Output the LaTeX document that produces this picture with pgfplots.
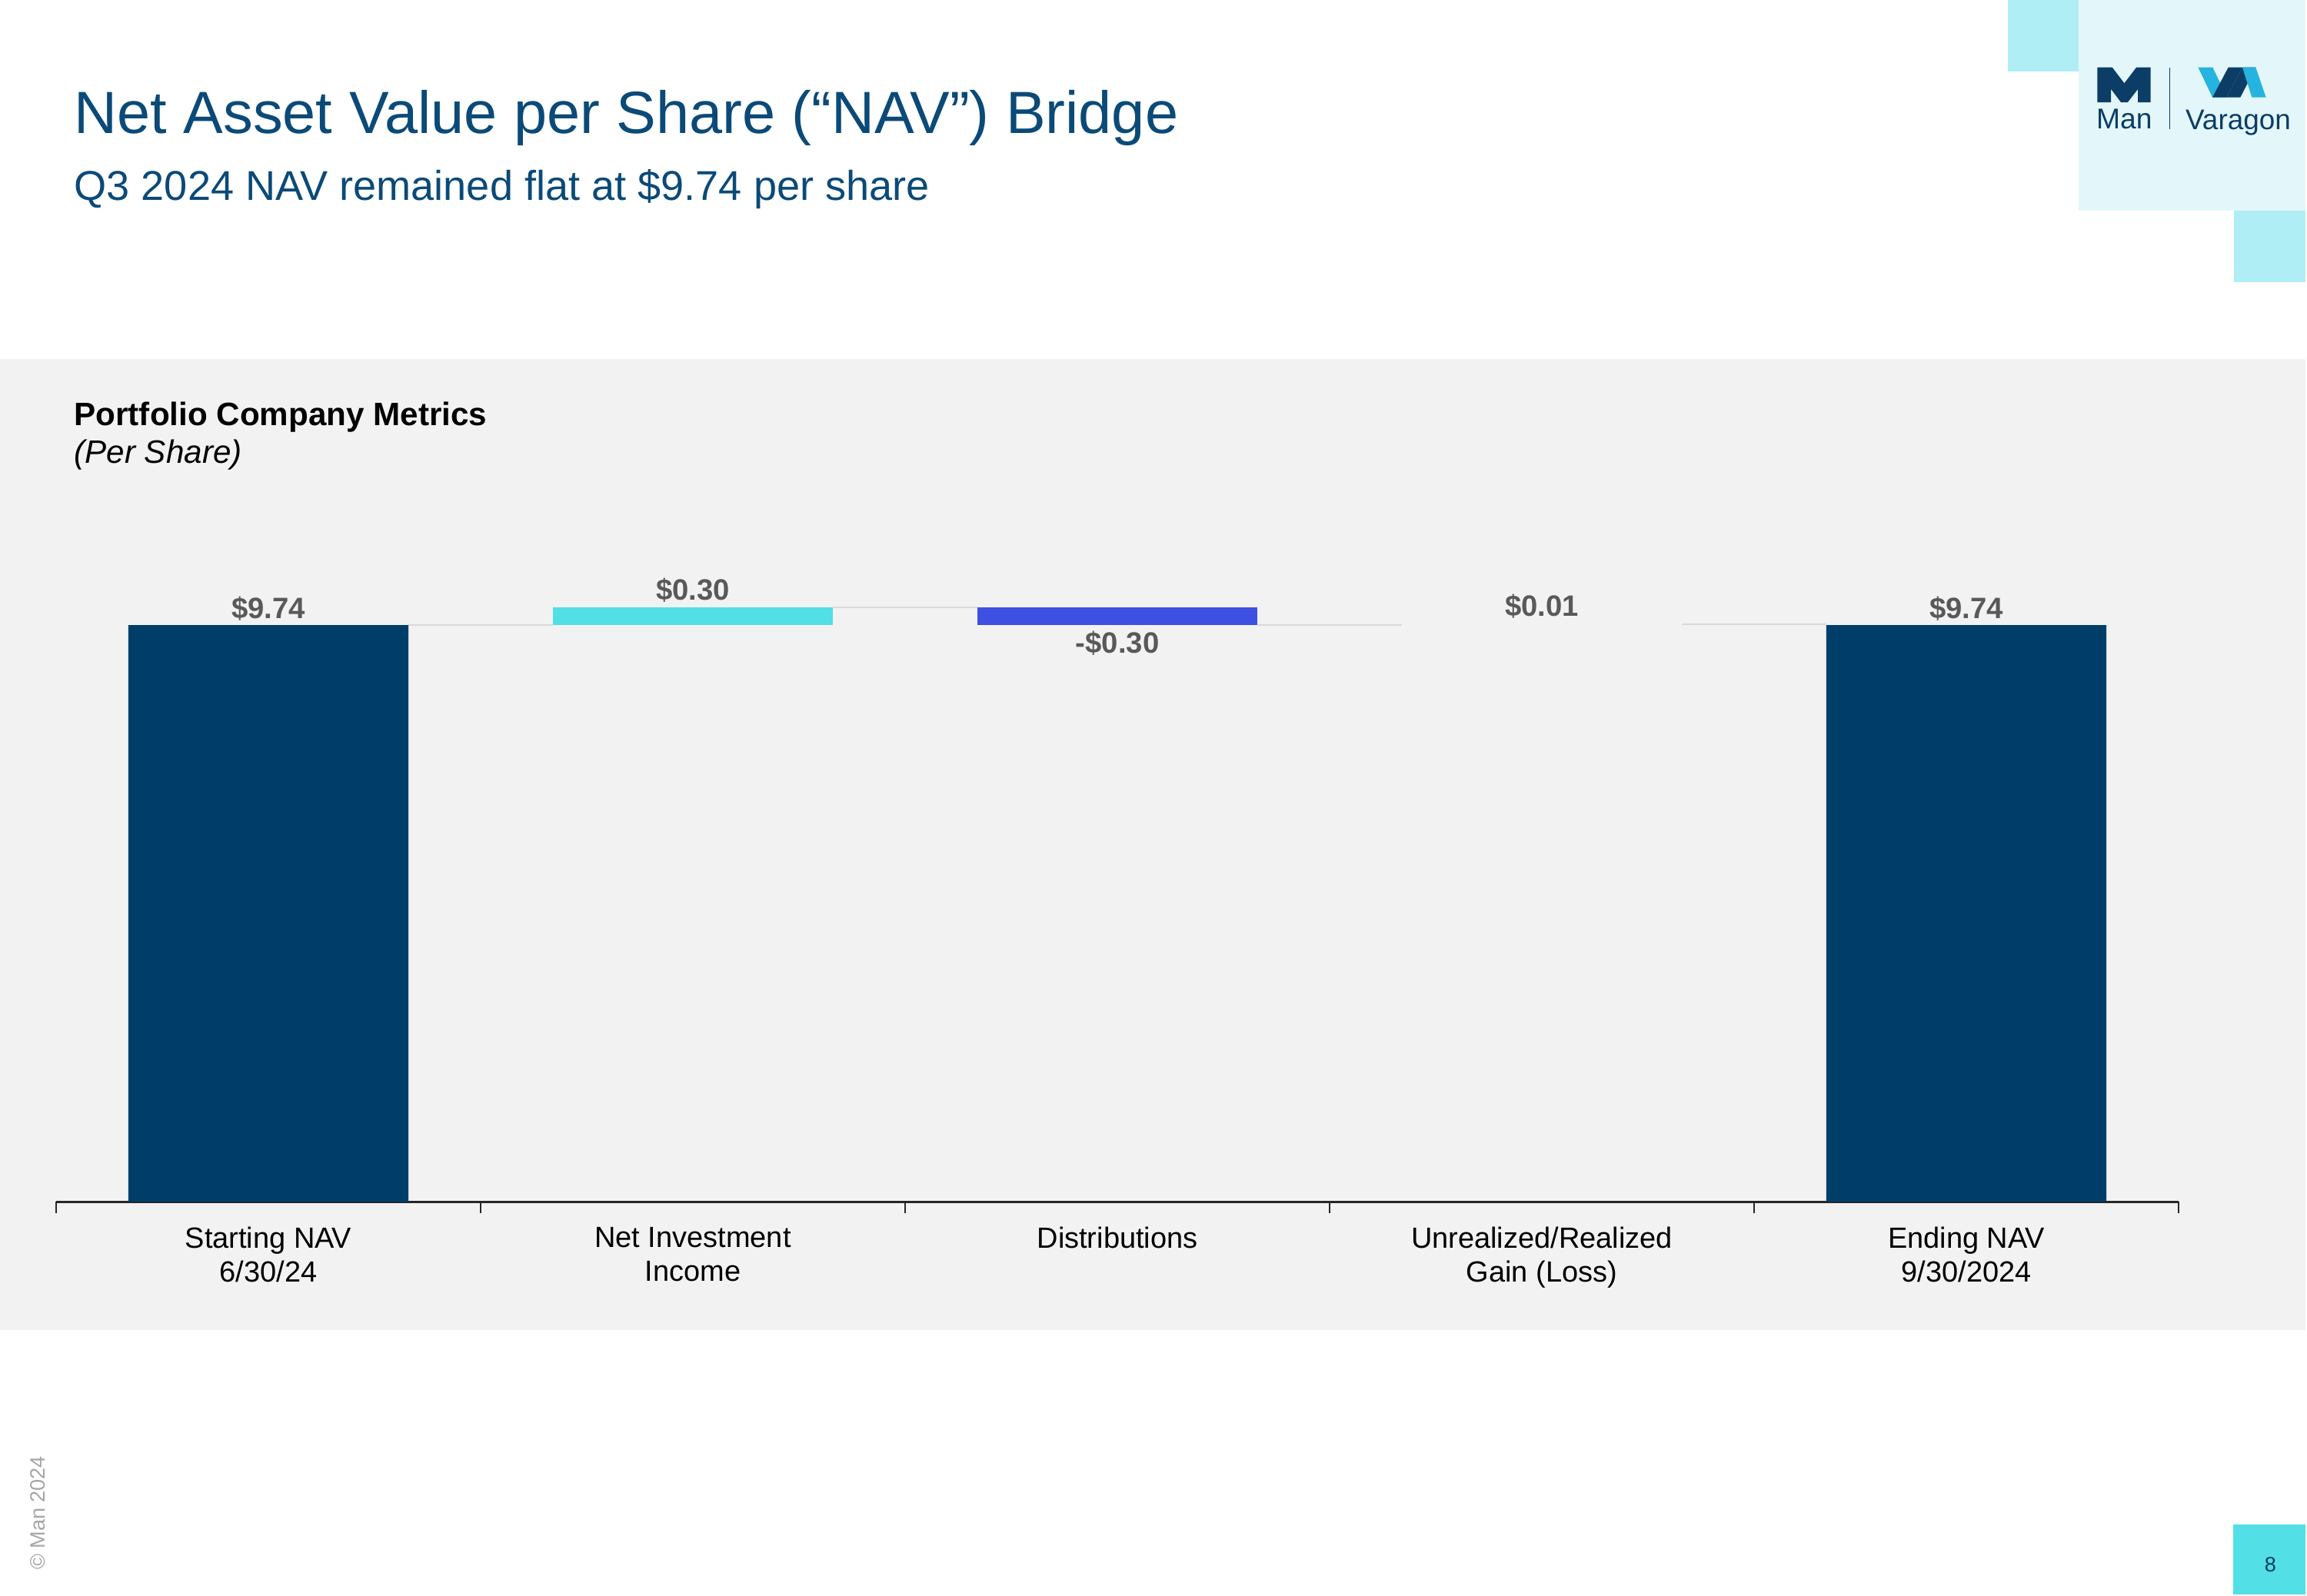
\documentclass[border=0pt]{standalone}
\usepackage{fontspec}
\setmainfont{Liberation Sans}
\usepackage{pgfplots}
\pgfplotsset{compat=1.18}
\definecolor{navy}{HTML}{003E6A}
\definecolor{titleblue}{HTML}{0B4A78}
\definecolor{cyanbar}{HTML}{52DFE6}
\definecolor{bluebar}{HTML}{3D50E2}
\definecolor{panel}{HTML}{F2F2F2}
\definecolor{logobg}{HTML}{E3F7FA}
\definecolor{sq}{HTML}{AFEEF4}
\definecolor{pagebox}{HTML}{52DFE6}
\definecolor{lblgray}{HTML}{595959}
\definecolor{conn}{HTML}{D9D9D9}
\definecolor{axisc}{HTML}{262626}
\definecolor{logonavy}{HTML}{0B3D66}
\definecolor{logolight}{HTML}{25B4DF}
\begin{document}
\begin{tikzpicture}
\useasboundingbox (0,0) rectangle (30cm,-20.75cm);
\fill[white] (0,0) rectangle (30cm,-20.75cm);
\begin{scope}[x=0.01cm,y=-0.01cm]
\fill[panel] (0,467) rectangle (3000,1731);
\fill[logobg] (2705,0) rectangle (3000,274);
\fill[sq] (2612,0) rectangle (2705,93);
\fill[sq] (2907,274) rectangle (3000,367);
\fill[pagebox] (2906,1984) rectangle (3000,2075);
% M logo
\fill[logonavy] (2729,133.3) -- (2729,87.7) -- (2748.3,87.7) -- (2764,108.3) -- (2779.7,87.7) -- (2798.3,87.7) -- (2798.3,133.3) -- (2781.7,133.3) -- (2781.7,116) -- (2768.3,133.3) -- (2759.7,133.3) -- (2746.7,116) -- (2746.7,133.3) -- cycle;
\draw[logonavy, line width=0.4pt] (2823,88) -- (2823,168);
% VA logo
\fill[logolight] (2860,87.7) -- (2879,87.7) -- (2897.7,126.7) -- (2878.7,126.7) -- cycle;
\fill[logonavy] (2878.7,126.7) -- (2897,126.7) -- (2917.7,87.7) -- (2899.3,87.7) -- cycle;
\fill[logonavy] (2897,126.7) -- (2915,126.7) -- (2935,87.7) -- (2917.7,87.7) -- cycle;
\fill[logolight] (2917.7,87.7) -- (2935,87.7) -- (2948.3,126.7) -- (2930,126.7) -- cycle;
\node[anchor=base west, inner sep=0, font=\fontsize{10.6}{12}\selectfont, text=logonavy] at (2727,168) {Man};
\node[anchor=base west, inner sep=0, font=\fontsize{10.5}{12}\selectfont, text=logonavy] at (2843,169) {Varagon};
% titles
\node[anchor=base west, inner sep=0, font=\fontsize{22.05}{26}\selectfont, text=titleblue] at (96,174) {Net Asset Value per Share (“NAV”) Bridge};
\node[anchor=base west, inner sep=0, font=\fontsize{15.4}{18}\selectfont, text=titleblue] at (96,261) {Q3 2024 NAV remained flat at \$9.74 per share};
\node[anchor=base west, inner sep=0, font=\fontsize{12}{14}\selectfont\bfseries, text=black] at (96,554) {Portfolio Company Metrics};
\node[anchor=base west, inner sep=0, font=\fontsize{12}{14}\selectfont\itshape, text=black] at (96,603) {(Per Share)};
% footer
\node[rotate=90, inner sep=0, font=\fontsize{7.7}{9}\selectfont, text=black!35] at (49,1969) {© Man 2024};
\node[inner sep=0, font=\fontsize{7.7}{9}\selectfont, text=logonavy] at (2954,2036) {8};
\end{scope}
% connectors
\begin{axis}[at={(0.73cm,-15.63cm)}, anchor=south west, scale only axis,
  width=27.6cm, height=9.24cm, xmin=-0.5, xmax=4.5, ymin=0, ymax=12,
  hide axis, clip=false]
\addplot[conn, line width=0.6pt] coordinates {(0.33,9.74) (0.67,9.74)};
\addplot[conn, line width=0.6pt] coordinates {(1.33,10.04) (1.67,10.04)};
\addplot[conn, line width=0.6pt] coordinates {(2.33,9.74) (2.67,9.74)};
\addplot[conn, line width=0.6pt] coordinates {(3.33,9.75) (3.67,9.75)};
\end{axis}
% bars
\begin{axis}[at={(0.73cm,-15.63cm)}, anchor=south west, scale only axis,
  width=27.6cm, height=9.24cm, xmin=-0.5, xmax=4.5, ymin=0, ymax=12,
  ybar stacked, bar width=0.66,
  axis y line=none, axis x line*=bottom,
  x axis line style={draw=axisc, line width=0.85pt},
  xtick={0,1,2,3,4},
  xticklabels={{Starting NAV\\6/30/24},{Net Investment\\Income},{Distributions},{Unrealized/Realized\\Gain (Loss)},{Ending NAV\\9/30/2024}},
  major tick length=0pt,
  xticklabel style={align=center, font=\fontsize{10.8}{12.5}\selectfont, text=black, anchor=north, yshift=-0.21cm},
  extra x ticks={-0.5,0.5,1.5,2.5,3.5,4.5},
  extra x tick labels={},
  extra x tick style={major tick length=0.15cm, tick align=outside, tick style={draw=axisc, line width=0.4pt}},
  clip=false]
\addplot[draw=none, fill=none] coordinates {(0,0) (1,9.74) (2,9.74) (3,9.74) (4,0)};
\addplot[draw=none, fill=navy] coordinates {(0,9.74) (1,0) (2,0) (3,0) (4,9.74)};
\addplot[draw=none, fill=cyanbar] coordinates {(0,0) (1,0.30) (2,0) (3,0) (4,0)};
\addplot[draw=none, fill=bluebar] coordinates {(0,0) (1,0) (2,0.30) (3,0) (4,0)};
\addplot[draw=none, fill=none] coordinates {(0,0) (1,0) (2,0) (3,0.01) (4,0)};
\node[anchor=base, yshift=0.09cm, font=\fontsize{10.9}{12}\selectfont\bfseries, text=lblgray] at (axis cs:0,9.74) {\$9.74};
\node[anchor=base, yshift=0.09cm, font=\fontsize{10.9}{12}\selectfont\bfseries, text=lblgray] at (axis cs:1,10.04) {\$0.30};
\node[anchor=base, yshift=-0.365cm, font=\fontsize{10.9}{12}\selectfont\bfseries, text=lblgray] at (axis cs:2,9.74) {-\$0.30};
\node[anchor=base, yshift=0.105cm, font=\fontsize{10.9}{12}\selectfont\bfseries, text=lblgray] at (axis cs:3,9.75) {\$0.01};
\node[anchor=base, yshift=0.09cm, font=\fontsize{10.9}{12}\selectfont\bfseries, text=lblgray] at (axis cs:4,9.74) {\$9.74};
\end{axis}
\end{tikzpicture}
\end{document}
